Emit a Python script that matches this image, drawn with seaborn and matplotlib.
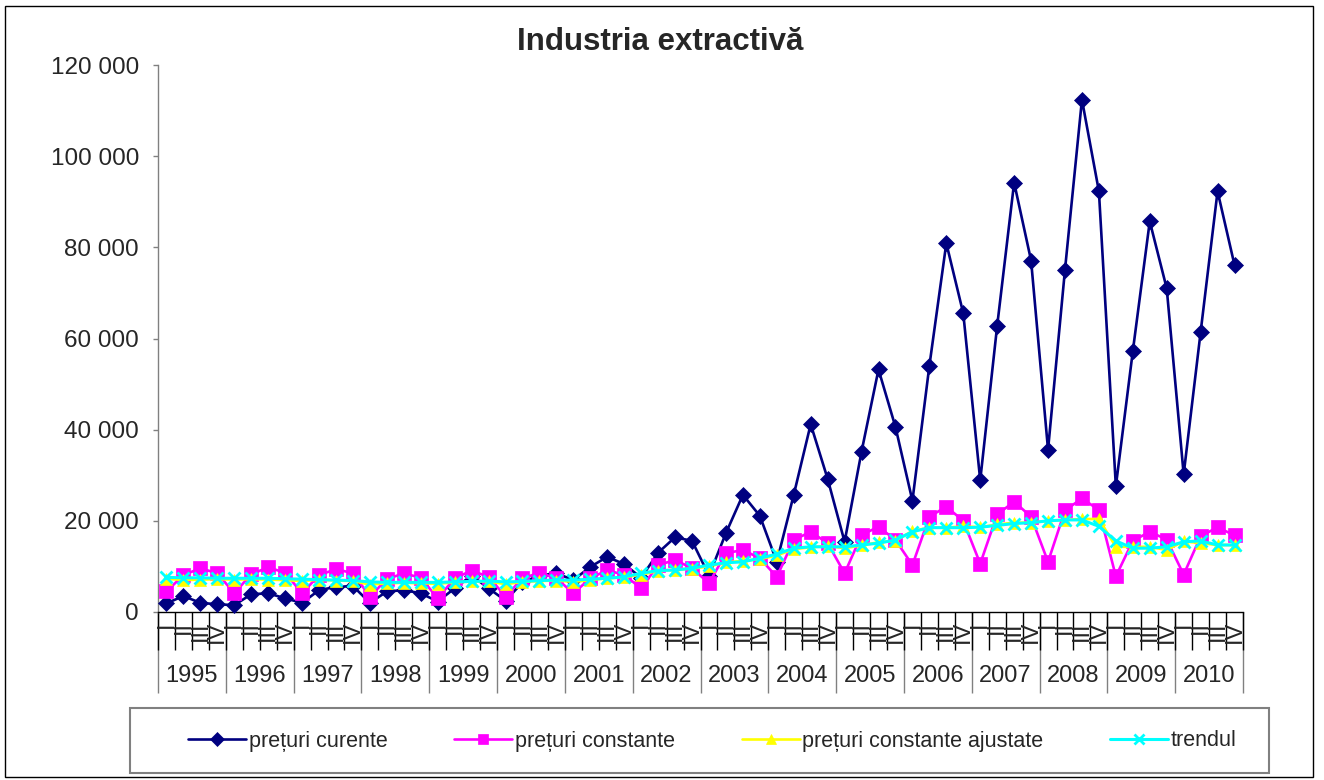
import numpy as np
import matplotlib
matplotlib.use("Agg")
import matplotlib.pyplot as plt
from matplotlib.patches import Rectangle
from matplotlib.ticker import FuncFormatter
import seaborn as sns

# ------------ DATA (quarterly 1995-2010) ------------
YEARS = list(range(1995, 2011))
QUARTERS = ["I", "II", "III", "IV"]

preturi_curente = [
    1900, 3500, 2000, 1700,
    1500, 3900, 4100, 3000,
    2000, 4800, 5500, 5700,
    2000, 4500, 4800, 4100,
    2300, 5200, 8000, 5200,
    2500, 6500, 8000, 8500,
    7000, 9900, 12100, 10500,
    7500, 13000, 16400, 15600,
    8000, 17300, 25700, 21100,
    11000, 25700, 41200, 29200,
    15400, 35200, 53200, 40600,
    24400, 54000, 80900, 65500,
    28900, 62800, 94200, 77100,
    35600, 75100, 112400, 92300,
    27600, 57200, 85700, 71000,
    30200, 61400, 92300, 76100,
]
preturi_constante = [
    4500, 8100, 9600, 8500,
    4100, 8300, 9800, 8600,
    4100, 8100, 9400, 8500,
    3400, 7200, 8500, 7500,
    3000, 7400, 9100, 7700,
    3400, 7400, 8600, 7400,
    4100, 7400, 9200, 8100,
    5200, 10300, 11400, 9600,
    6300, 12900, 13600, 11800,
    7700, 15800, 17600, 15100,
    8500, 16900, 18700, 15800,
    10300, 20900, 23100, 20000,
    10600, 21400, 24200, 20900,
    11000, 22300, 24900, 22400,
    7800, 15600, 17600, 15900,
    8200, 16600, 18600, 16800,
]
preturi_ajustate = [
    7300, 7000, 7100, 7200,
    7100, 7200, 7100, 7000,
    6800, 7100, 6900, 6800,
    6000, 6300, 6400, 6300,
    6200, 6500, 6700, 6700,
    6100, 6600, 6800, 6900,
    6600, 7000, 7400, 7600,
    8200, 9000, 9300, 9500,
    10000, 10900, 11200, 11600,
    12400, 13800, 14200, 14500,
    14000, 14600, 15300, 15600,
    17800, 18500, 18500, 18800,
    18600, 19200, 19600, 19600,
    20000, 20200, 20400, 20400,
    14300, 14300, 14300, 13600,
    15500, 15100, 14700, 14700,
]
trendul = [
    7600, 7500, 7500, 7400,
    7400, 7400, 7400, 7300,
    7200, 7100, 7000, 6900,
    6600, 6500, 6500, 6500,
    6500, 6600, 6700, 6800,
    6600, 6700, 6900, 7000,
    7000, 7200, 7400, 7700,
    8500, 9100, 9200, 9600,
    10300, 10800, 11000, 11800,
    12700, 14000, 14300, 14300,
    14300, 14700, 15100, 15800,
    17600, 18500, 18500, 18500,
    18600, 19000, 19400, 19600,
    20000, 20200, 20200, 18800,
    15600, 14000, 14000, 14300,
    15400, 15600, 14700, 14700,
]

W, H = 1324, 780

# ------------ STYLE ------------
sns.set_style("white")
plt.rcParams["font.family"] = ["Liberation Sans", "DejaVu Sans"]

fig = plt.figure(figsize=(W / 100, H / 100), dpi=100)
ax = fig.add_axes([158 / W, 1 - 612 / H, (1243 - 158) / W, (612 - 65) / H])

pos = np.arange(len(preturi_curente))

series = [
    ("prețuri curente", preturi_curente, "#000080", "D", 8.5, 1.9),
    ("prețuri constante", preturi_constante, "#FF00FF", "s", 10, 1.9),
    ("prețuri constante ajustate", preturi_ajustate, "#FFFF00", "^", 9, 1.9),
    ("trendul", trendul, "#00FFFF", "x", 8, 2.2),
]
for z, (name, vals, col, mk, ms, lw) in enumerate(series):
    sns.lineplot(x=pos, y=vals, ax=ax, color=col, marker=mk, markersize=ms,
                 linewidth=lw, markeredgecolor=col,
                 markeredgewidth=2 if mk == "x" else 0.5,
                 label=name, sort=False, clip_on=False, zorder=3 + z)

# ------------ AXES ------------
ax.set_xlim(-0.5, len(pos) - 0.5)
ax.set_ylim(0, 120000)
ax.set_yticks(range(0, 120001, 20000))
ax.yaxis.set_major_formatter(FuncFormatter(lambda v, p: f"{int(v):,}".replace(",", " ")))
ax.set_xlabel("")
ax.set_ylabel("")
for s in ["top", "right"]:
    ax.spines[s].set_visible(False)
ax.spines["left"].set_color("#808080")
ax.spines["left"].set_linewidth(1)
ax.spines["bottom"].set_color("black")
ax.spines["bottom"].set_linewidth(1)
ax.tick_params(axis="y", direction="out", length=3.6, width=1, color="#808080",
               pad=10, labelsize=17.5, left=True)

# quarter level
ax.set_xticks(np.arange(len(pos) + 1) - 0.5, labels=[""] * (len(pos) + 1))
ax.set_xticks(pos, labels=QUARTERS * len(YEARS), minor=True)
ax.tick_params(axis="x", which="major", direction="out", length=27.4, width=1,
               color="black", bottom=True)
ax.tick_params(axis="x", which="minor", length=0, pad=6.5, labelsize=17,
               labelrotation=90, bottom=True)

# year level
secax = ax.secondary_xaxis("bottom")
secax.spines["bottom"].set_visible(False)
secax.set_xticks(np.arange(len(YEARS) + 1) * 4 - 0.5, labels=[""] * (len(YEARS) + 1))
secax.set_xticks(np.arange(len(YEARS)) * 4 + 1.5, labels=[str(y) for y in YEARS], minor=True)
secax.tick_params(which="major", direction="out", length=58.3, width=1, color="#808080")
secax.tick_params(which="minor", length=0, pad=38.5, labelsize=17)

# ------------ TITLE / LEGEND / FRAME ------------
fig.text(660 / W, 1 - 50 / H, "Industria extractivă", ha="center", va="baseline",
         fontsize=22.5, fontweight="bold")

handles, labels = ax.get_legend_handles_labels()
if ax.get_legend() is not None:
    ax.get_legend().remove()
leg = fig.legend(handles, labels, loc="center left",
                 bbox_to_anchor=(188 / W, 1 - 741 / H),
                 ncol=4, fontsize=15.5, frameon=False,
                 borderpad=0, handlelength=2.7, handletextpad=0.12,
                 columnspacing=3.1, borderaxespad=0)
for h in leg.legend_handles:
    h.set_markersize(7)

# legend box and outer chart frame
fig.patches.append(Rectangle((130 / W, 1 - 773 / H), 1139 / W, 65 / H,
                             transform=fig.transFigure, fill=False,
                             edgecolor="#808080", linewidth=1.5))
fig.patches.append(Rectangle((5 / W, 3 / H), (1313 - 5) / W, (774 - 3) / H,
                             transform=fig.transFigure, fill=False,
                             edgecolor="black", linewidth=1))

fig.savefig("out.png", dpi=100)
